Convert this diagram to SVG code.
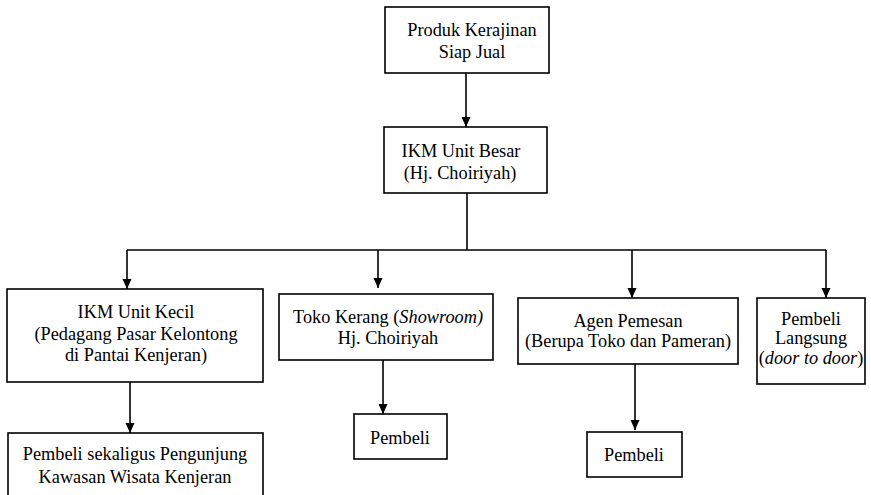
<svg xmlns="http://www.w3.org/2000/svg" width="871" height="495" viewBox="0 0 871 495">
<style>
.b{fill:#fff;stroke:#000;stroke-width:1.6}
text{font-family:'Liberation Serif','DejaVu Serif',serif;font-size:18.3px;fill:#000;text-anchor:middle}
.c path{fill:none;stroke:#000;stroke-width:1.6}
</style>
<defs>
<marker id="ah" markerUnits="userSpaceOnUse" markerWidth="10" markerHeight="10" refX="10" refY="4.5" orient="auto">
<path d="M0,0 L10,4.5 L0,9 z" fill="#000"/>
</marker>
</defs>
<rect width="871" height="495" fill="#fff"/>
<g id="n1"><rect class="b" x="385" y="7" width="164" height="66"/><text x="472" y="36">Produk Kerajinan</text><text x="472" y="58">Siap Jual</text></g>
<g id="n2"><rect class="b" x="384" y="127" width="163" height="66"/><text x="461" y="157">IKM Unit Besar</text><text x="460" y="179">(Hj. Choiriyah)</text></g>
<g id="n3"><rect class="b" x="7" y="289" width="256" height="93"/><text x="136" y="318">IKM Unit Kecil</text><text x="136" y="340">(Pedagang Pasar Kelontong</text><text x="136" y="361">di Pantai Kenjeran)</text></g>
<g id="n4"><rect class="b" x="279" y="294" width="214" height="66"/><text x="388" y="323">Toko Kerang (<tspan font-style="italic">Showroom)</tspan></text><text x="388" y="344">Hj. Choiriyah</text></g>
<g id="n5"><rect class="b" x="518" y="298" width="220" height="66"/><text x="628" y="327">Agen Pemesan</text><text x="628" y="347">(Berupa Toko dan Pameran)</text></g>
<g id="n6"><rect class="b" x="757" y="298" width="108" height="86"/><text x="811" y="325">Pembeli</text><text x="811" y="344">Langsung</text><text x="811" y="364">(<tspan font-style="italic">door to door</tspan>)</text></g>
<g id="n7"><rect class="b" x="8" y="433" width="255" height="80"/><text x="135" y="460">Pembeli sekaligus Pengunjung</text><text x="135" y="483">Kawasan Wisata Kenjeran</text></g>
<g id="n8"><rect class="b" x="354" y="414" width="93" height="45"/><text x="400" y="444">Pembeli</text></g>
<g id="n9"><rect class="b" x="587" y="432" width="95" height="45"/><text x="634" y="461">Pembeli</text></g>
<g class="c" id="connectors">
<path d="M466,73 V127" marker-end="url(#ah)"/>
<path d="M467,193 V250"/>
<path d="M127,250 H826"/>
<path d="M127,250 V289" marker-end="url(#ah)"/>
<path d="M378,250 V288" marker-end="url(#ah)"/>
<path d="M632,250 V298" marker-end="url(#ah)"/>
<path d="M826,250 V298" marker-end="url(#ah)"/>
<path d="M130,382 V433" marker-end="url(#ah)"/>
<path d="M383,360 V414" marker-end="url(#ah)"/>
<path d="M635,364 V430" marker-end="url(#ah)"/>
</g>
</svg>
